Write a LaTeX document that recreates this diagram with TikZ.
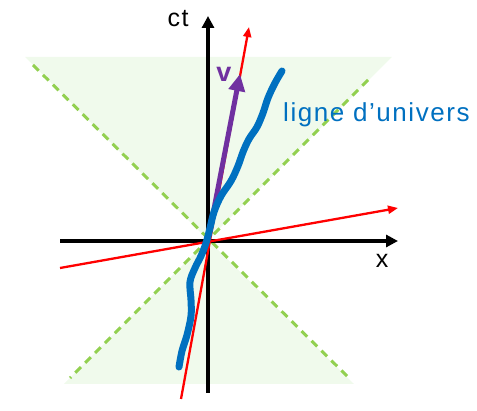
\documentclass[tikz,border=0pt]{standalone}
\usepackage{fontspec}
\setmainfont{Liberation Sans}
\newfontfamily\lblfont[LetterSpace=6]{Liberation Sans}
\usetikzlibrary{arrows.meta}
\definecolor{conegreen}{RGB}{240,250,236}
\definecolor{dashgreen}{RGB}{146,208,80}
\definecolor{wlblue}{RGB}{0,112,192}
\definecolor{vpurple}{RGB}{112,48,160}
\definecolor{pred}{RGB}{255,0,0}
\tikzset{
  cone/.style={fill=conegreen, draw=none},
  lightline/.style={draw=dashgreen, line width=3pt, dash pattern=on 8pt off 6pt},
  axis/.style={draw=black, line width=3.5pt, -{Triangle[length=12pt,width=12pt]}},
  redaxis/.style={draw=pred, line width=2.3pt, -{Triangle[length=10pt,width=8pt]}},
  vel/.style={draw=vpurple, line width=5pt, -{Triangle[length=17pt,width=16pt]}},
  world/.style={draw=wlblue, line width=7pt, line cap=round, line join=round},
  lbl/.style={font=\lblfont\fontsize{25}{28}\selectfont, inner sep=0pt}
}
\begin{document}
\begin{tikzpicture}[x=1pt,y=-1pt]
\useasboundingbox (0,0) rectangle (477,411);
% coordinates
\coordinate (O) at (208,240);
\coordinate (cul) at (25,57);
\coordinate (cur) at (392,57);
\coordinate (cll) at (64,384);
\coordinate (clr) at (354,384);
% light cone shading
\fill[cone] (cul) -- (cur) -- (O) -- cycle;
\fill[cone] (cll) -- (clr) -- (O) -- cycle;
% light lines
\coordinate (l1a) at (33,65);
\coordinate (l1b) at (349,378);
\coordinate (l2a) at (368,80);
\coordinate (l2b) at (70,378);
\draw[lightline] (l1a) -- (l1b);
\draw[lightline] (l2a) -- (l2b);
% axes
\coordinate (xa) at (60,241);
\coordinate (xb) at (398,241);
\coordinate (ya) at (208,393);
\coordinate (yb) at (208,16);
\draw[axis] (xa) -- (xb);
\draw[axis] (ya) -- (yb);
% red boosted axes
\coordinate (r1a) at (181,399);
\coordinate (r1b) at (249,27);
\coordinate (r2a) at (60,268);
\coordinate (r2b) at (398,208);
\draw[redaxis] (r1a) -- (r1b);
\draw[redaxis] (r2a) -- (r2b);
% velocity
\coordinate (vt) at (240,74);
\draw[vel] (O) -- (vt);
% world line
\draw[world] plot[smooth, tension=0.6] coordinates {
 (282,71) (275,83) (268,98) (263,113) (257,127) (249,139) (243,152) (238,166)
 (231,181) (221,196) (214,212) (210,228) (206,243) (201,256) (195,268)
 (190,282) (191,300) (191,316) (187,335) (182,351) (179,367)};
% labels
\node[lbl, anchor=base] (ct) at (178,27) {ct};
\node[lbl, anchor=base] (x) at (382,268) {x};
\node[lbl, anchor=base, text=vpurple, font=\lblfont\bfseries\fontsize{27}{30}\selectfont] (v) at (224,82) {v};
\node[lbl, anchor=base west, text=wlblue, font=\lblfont\fontsize{26}{30}\selectfont] (ul) at (283,122) {ligne d’univers};
\end{tikzpicture}
\end{document}
